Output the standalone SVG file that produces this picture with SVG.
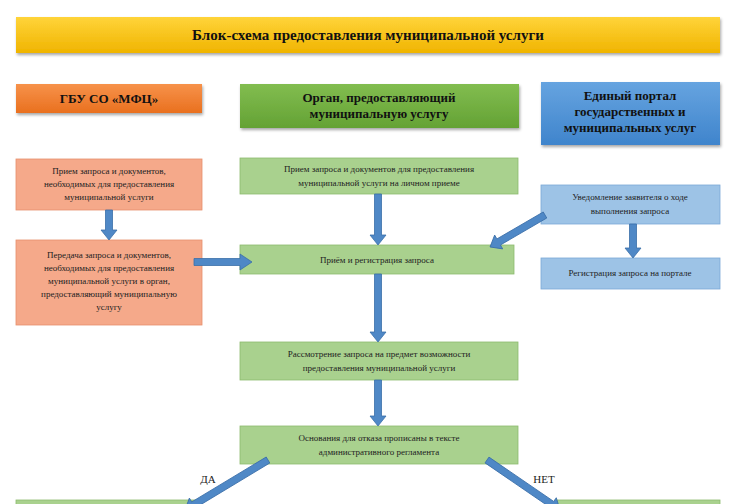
<svg xmlns="http://www.w3.org/2000/svg" width="740" height="504" viewBox="0 0 740 504">
<defs>
<linearGradient id="gold" x1="0" y1="0" x2="0" y2="1"><stop offset="0" stop-color="#ffd43a"/><stop offset="1" stop-color="#f0b400"/></linearGradient>
<linearGradient id="org" x1="0" y1="0" x2="0" y2="1"><stop offset="0" stop-color="#f7924a"/><stop offset="1" stop-color="#e9701f"/></linearGradient>
<linearGradient id="grn" x1="0" y1="0" x2="0" y2="1"><stop offset="0" stop-color="#82bd50"/><stop offset="1" stop-color="#64a234"/></linearGradient>
<linearGradient id="blu" x1="0" y1="0" x2="0" y2="1"><stop offset="0" stop-color="#66a4e0"/><stop offset="1" stop-color="#3f84cc"/></linearGradient>
<filter id="sh" x="-5%" y="-10%" width="110%" height="130%"><feDropShadow dx="1" dy="2" stdDeviation="1.5" flood-opacity="0.35"/></filter>
</defs>
<style>
text{font-family:"Liberation Serif",serif;text-anchor:middle;fill:#222}
.h{font-weight:bold;font-size:13px;fill:#111}
.t{font-size:9px}
.lo{fill:#f5a98a;stroke:#e7906c;stroke-width:0.8}
.lg{fill:#a9d18e;stroke:#8dbb6e;stroke-width:0.8}
.lb{fill:#9dc3e6;stroke:#7aa9d6;stroke-width:0.8}
.ar{fill:#4f88c6;stroke:#3a6ea8;stroke-width:0.8}
</style>
<rect width="740" height="504" fill="#fff"/>
<g id="title"><rect x="16" y="17" width="704" height="36" fill="url(#gold)" filter="url(#sh)"/><text class="h" x="368" y="40" style="font-size:15px">Блок-схема предоставления муниципальной услуги</text></g>
<g id="mfc"><rect x="16" y="84" width="186" height="29" fill="url(#org)" filter="url(#sh)"/><text class="h" x="109" y="103">ГБУ СО «МФЦ»</text></g>
<g id="organ"><rect x="240" y="84" width="279" height="44" fill="url(#grn)" filter="url(#sh)"/><text class="h" x="379" y="102">Орган, предоставляющий</text><text class="h" x="379" y="118">муниципальную услугу</text></g>
<g id="portal"><rect x="541" y="82" width="179" height="63" fill="url(#blu)" filter="url(#sh)"/><text class="h" x="630" y="100">Единый портал</text><text class="h" x="630" y="116">государственных и</text><text class="h" x="630" y="132">муниципальных услуг</text></g>
<g id="o1"><rect class="lo" x="16" y="159" width="186" height="51"/><text class="t" x="109" y="174">Прием запроса и документов,</text><text class="t" x="109" y="187">необходимых для предоставления</text><text class="t" x="109" y="200">муниципальной услуги</text></g>
<g id="o2"><rect class="lo" x="16" y="240" width="186" height="85"/><text class="t" x="109" y="258">Передача запроса и документов,</text><text class="t" x="109" y="271">необходимых для предоставления</text><text class="t" x="109" y="284">муниципальной услуги в орган,</text><text class="t" x="109" y="297">предоставляющий муниципальную</text><text class="t" x="109" y="310">услугу</text></g>
<g id="g1"><rect class="lg" x="240" y="158" width="278" height="36"/><text class="t" x="379" y="172">Прием запроса и документов для предоставления</text><text class="t" x="379" y="186">муниципальной услуги на личном приеме</text></g>
<g id="g2"><rect class="lg" x="240" y="245" width="274" height="29"/><text class="t" x="377" y="263">Приём и регистрация запроса</text></g>
<g id="b1"><rect class="lb" x="541" y="185" width="179" height="39"/><text class="t" x="630" y="200">Уведомление заявителя о ходе</text><text class="t" x="630" y="214">выполнения запроса</text></g>
<g id="b2"><rect class="lb" x="541" y="258" width="179" height="31"/><text class="t" x="630" y="276">Регистрация запроса на портале</text></g>
<g id="g3"><rect class="lg" x="240" y="342" width="278" height="38"/><text class="t" x="379" y="357">Рассмотрение запроса на предмет возможности</text><text class="t" x="379" y="371">предоставления муниципальной услуги</text></g>
<g id="g4"><rect class="lg" x="240" y="426" width="278" height="38"/><text class="t" x="379" y="441">Основания для отказа прописаны в тексте</text><text class="t" x="379" y="455">административного регламента</text></g>
<g id="yes"><rect class="lg" x="16" y="500" width="184" height="10"/></g>
<g id="no"><rect class="lg" x="555" y="500" width="165" height="10"/></g>
<g id="connectors">
<polygon class="ar" transform="translate(109,210) rotate(90)" points="0,-3.5 20,-3.5 20,-8 30,0 20,8 20,3.5 0,3.5"/>
<polygon class="ar" transform="translate(194,262)" points="0,-3.5 46,-3.5 46,-8 58,0 46,8 46,3.5 0,3.5"/>
<polygon class="ar" transform="translate(378,194) rotate(90)" points="0,-3.5 41,-3.5 41,-8 51,0 41,8 41,3.5 0,3.5"/>
<polygon class="ar" transform="translate(545,215) rotate(149.8)" points="0,-3.5 53.6,-3.5 53.6,-8 63.6,0 53.6,8 53.6,3.5 0,3.5"/>
<polygon class="ar" transform="translate(633,224) rotate(90)" points="0,-3.5 24,-3.5 24,-8 34,0 24,8 24,3.5 0,3.5"/>
<polygon class="ar" transform="translate(378,274) rotate(90)" points="0,-3.5 58,-3.5 58,-8 68,0 58,8 58,3.5 0,3.5"/>
<polygon class="ar" transform="translate(378,380) rotate(90)" points="0,-3.5 36,-3.5 36,-8 46,0 36,8 36,3.5 0,3.5"/>
<polygon class="ar" transform="translate(268,460) rotate(148.9)" points="0,-3.5 87,-3.5 87,-8 97,0 87,8 87,3.5 0,3.5"/>
<polygon class="ar" transform="translate(487,460) rotate(34.4)" points="0,-3.5 78.5,-3.5 78.5,-8 88.5,0 78.5,8 78.5,3.5 0,3.5"/>
<text x="208" y="483" style="font-size:11px">ДА</text>
<text x="544" y="483" style="font-size:11px">НЕТ</text>
</g>
</svg>
